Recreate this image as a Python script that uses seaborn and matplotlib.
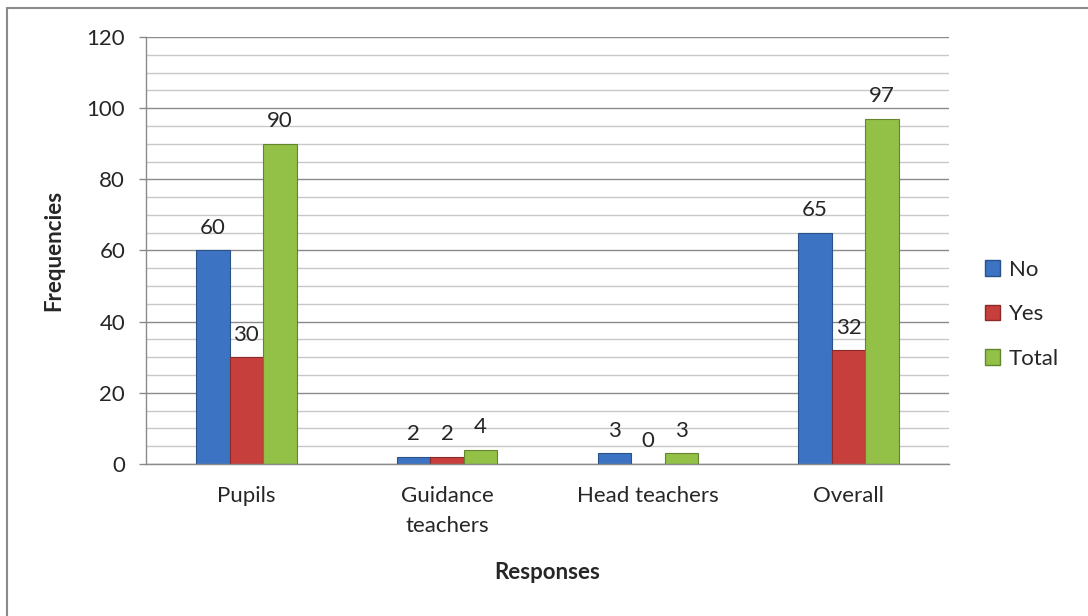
import matplotlib.pyplot as plt
import matplotlib.patches as mpatches
from matplotlib.lines import Line2D
import seaborn as sns
import pandas as pd

# Chart data
categories = ["Pupils", "Guidance\nteachers", "Head teachers", "Overall"]
no_values = [60, 2, 3, 65]
yes_values = [30, 2, 0, 32]
total_values = [90, 4, 3, 97]
series_names = ["No", "Yes", "Total"]
colors = ["#3c73c2", "#c73f3c", "#93c047"]

FS = 16


def build_frame():
    rows = []
    for name, vals in zip(series_names, [no_values, yes_values, total_values]):
        for cat, v in zip(categories, vals):
            rows.append({"category": cat, "series": name, "value": v})
    return pd.DataFrame(rows)


def main():
    df = build_frame()

    sns.set_theme(style="white")
    plt.rcParams["font.family"] = ["Lato", "DejaVu Sans"]

    fig = plt.figure(figsize=(10.88, 6.16), dpi=100)
    ax = fig.add_axes([0.1342, 0.2468, 0.738, 0.6932])

    sns.barplot(data=df, x="category", y="value", hue="series",
                palette=colors, width=0.5, ax=ax, legend=False,
                edgecolor="none", saturation=1)

    # darker edge to hint the bevel look
    for cont, c in zip(ax.containers, colors):
        for bar in cont:
            bar.set_edgecolor(sns.set_hls_values(c, l=0.35))
            bar.set_linewidth(0.8)
        ax.bar_label(cont, fmt="%d", padding=9, fontsize=FS)

    ax.set_ylim(0, 120)
    ax.set_yticks(range(0, 121, 20))
    ax.set_yticks(range(0, 121, 5), minor=True)
    ax.grid(axis="y", which="minor", color="#c8c8c8", linewidth=1.0)
    ax.grid(axis="y", which="major", color="#8a8a8a", linewidth=1.0)
    ax.set_axisbelow(True)

    for side in ["top", "right"]:
        ax.spines[side].set_visible(False)
    for side in ["left", "bottom"]:
        ax.spines[side].set_color("#8a8a8a")
        ax.spines[side].set_linewidth(1.0)

    ax.tick_params(axis="y", which="major", direction="out", length=5,
                   width=1, color="#8a8a8a", pad=10, labelsize=FS, left=True)
    ax.tick_params(axis="y", which="minor", length=0)
    ax.tick_params(axis="x", length=0, pad=16, labelsize=FS)
    for lbl in ax.get_xticklabels():
        lbl.set_linespacing(1.6)

    ax.set_xlabel("Responses", fontsize=FS, fontweight="bold", labelpad=19)
    ax.set_ylabel("Frequencies", fontsize=FS, fontweight="bold", labelpad=16)

    handles = [mpatches.Patch(facecolor=c, edgecolor=sns.set_hls_values(c, l=0.35),
                              label=n) for n, c in zip(series_names, colors)]
    fig.legend(handles=handles, loc="center left", bbox_to_anchor=(0.905, 0.49),
               frameon=False, fontsize=FS, handlelength=0.7, handleheight=0.7,
               handletextpad=0.4, labelspacing=1.1, borderpad=0, borderaxespad=0)

    # outer chart border (only the top and left edges fall inside the image)
    fig.add_artist(Line2D([0.0064, 1.0], [0.987, 0.987], transform=fig.transFigure,
                          color="#8a8a8a", linewidth=1.5))
    fig.add_artist(Line2D([0.0064, 0.0064], [0.0, 0.987], transform=fig.transFigure,
                          color="#8a8a8a", linewidth=1.5))

    fig.savefig("out.png", dpi=100)


if __name__ == "__main__":
    main()
